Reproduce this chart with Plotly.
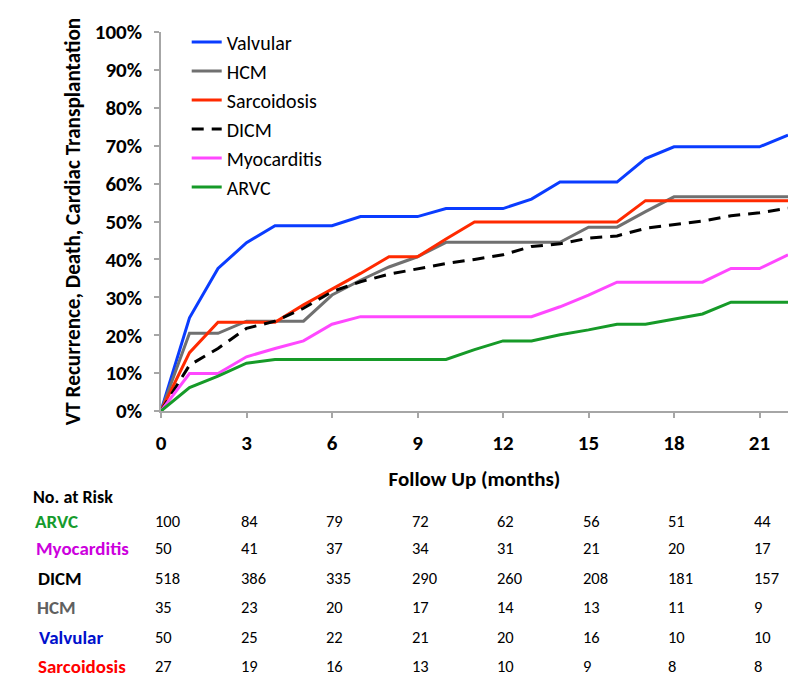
import plotly.graph_objects as go

months = list(range(0, 23))

valvular = [0, 24.6, 37.6, 44.4, 48.9, 48.9, 48.9, 51.3, 51.3, 51.3, 53.4, 53.4, 53.4,
            55.9, 60.4, 60.4, 60.4, 66.6, 69.7, 69.7, 69.7, 69.7, 72.8]
hcm = [0, 20.5, 20.5, 23.7, 23.7, 23.7, 30.6, 34.5, 38.0, 40.7, 44.5, 44.5, 44.5,
       44.5, 44.5, 48.5, 48.5, 52.6, 56.5, 56.5, 56.5, 56.5, 56.5]
sarcoidosis = [0, 15.4, 23.4, 23.4, 23.4, 28.0, 32.1, 36.3, 40.7, 40.7, 45.4, 49.9, 49.9,
               49.9, 49.9, 49.9, 49.9, 55.5, 55.5, 55.5, 55.5, 55.5, 55.5]
dicm = [0, 12.1, 16.5, 21.8, 23.7, 27.1, 31.5, 34.1, 36.1, 37.6, 38.9, 40.0, 41.2,
        43.4, 44.1, 45.6, 46.2, 48.2, 49.1, 50.1, 51.5, 52.3, 53.5]
myocarditis = [0, 9.9, 9.9, 14.3, 16.5, 18.5, 22.9, 24.9, 24.9, 24.9, 24.9, 24.9, 24.9,
               24.9, 27.5, 30.6, 34.0, 34.0, 34.0, 34.0, 37.6, 37.6, 41.2]
arvc = [0, 6.2, 9.2, 12.6, 13.6, 13.6, 13.6, 13.6, 13.6, 13.6, 13.6, 16.2, 18.5,
        18.5, 20.1, 21.4, 22.9, 22.9, 24.2, 25.6, 28.7, 28.7, 28.7]

x_ticks = [0, 3, 6, 9, 12, 15, 18, 21]
y_ticks = [0, 10, 20, 30, 40, 50, 60, 70, 80, 90, 100]

risk_groups = ["ARVC", "Myocarditis", "DICM", "HCM", "Valvular", "Sarcoidosis"]
risk_arvc = [100, 84, 79, 72, 62, 56, 51, 44]
risk_myocarditis = [50, 41, 37, 34, 31, 21, 20, 17]
risk_dicm = [518, 386, 335, 290, 260, 208, 181, 157]
risk_hcm = [35, 23, 20, 17, 14, 13, 11, 9]
risk_valvular = [50, 25, 22, 21, 20, 16, 10, 10]
risk_sarcoidosis = [27, 19, 16, 13, 10, 9, 8, 8]

FONT = "Carlito, 'Open Sans', sans-serif"

series = [
    ("Valvular", valvular, "#0a3cff", "solid"),
    ("HCM", hcm, "#707070", "solid"),
    ("Sarcoidosis", sarcoidosis, "#ff2a00", "solid"),
    ("DICM", dicm, "#000000", "12px,8px"),
    ("Myocarditis", myocarditis, "#ff48ff", "solid"),
    ("ARVC", arvc, "#169a28", "solid"),
]

fig = go.Figure()
for name, vals, color, dash in series:
    fig.add_trace(go.Scatter(
        x=months, y=vals, mode="lines", name=name, legendgroup=name,
        line=dict(color=color, width=3, dash=dash),
    ))

# page has an 8px body margin; figure is sized so it fills the 800x687 window
OFF = 8
W, H = 792, 679
L, R, T, B = 153, 12, 24, 276
plot_h = H - T - B
plot_w = W - L - R

def py(ypage):
    return (H - B - (ypage - OFF)) / plot_h

def px(xpage):
    return ((xpage - OFF) - L) / plot_w

annotations = []
annotations.append(dict(xref="paper", yref="paper", x=px(31), y=py(497), text="<b>No. at Risk</b>",
                        showarrow=False, xanchor="left", yanchor="middle",
                        font=dict(family=FONT, size=18, color="#000000")))

label_colors = {"ARVC": "#159b2d", "Myocarditis": "#cc00dd", "DICM": "#000000",
                "HCM": "#606060", "Valvular": "#0010cc", "Sarcoidosis": "#ff0000"}
row_px = {"ARVC": 521, "Myocarditis": 548, "DICM": 578, "HCM": 607, "Valvular": 637, "Sarcoidosis": 666}
label_px = {"ARVC": 33, "Myocarditis": 34, "DICM": 36, "HCM": 35, "Valvular": 37, "Sarcoidosis": 36}
risk_values = {"ARVC": risk_arvc, "Myocarditis": risk_myocarditis, "DICM": risk_dicm,
               "HCM": risk_hcm, "Valvular": risk_valvular, "Sarcoidosis": risk_sarcoidosis}

for g in risk_groups:
    yy = py(row_px[g])
    annotations.append(dict(xref="paper", yref="paper", x=px(label_px[g]), y=yy, text="<b>%s</b>" % g,
                            showarrow=False, xanchor="left", yanchor="middle",
                            font=dict(family=FONT, size=19, color=label_colors[g])))
    for xv, n in zip(x_ticks, risk_values[g]):
        annotations.append(dict(xref="x", yref="paper", x=xv, y=yy, text=str(n),
                                showarrow=False, xanchor="left", yanchor="middle", xshift=-8,
                                font=dict(family=FONT, size=16.5, color="#000000")))

fig.update_layout(
    width=W, height=H,
    margin=dict(l=L, r=R, t=T, b=B, autoexpand=False),
    paper_bgcolor="white", plot_bgcolor="white",
    font=dict(family=FONT, color="#000000"),
    showlegend=True,
    legend=dict(x=0.041, y=1.025, xanchor="left", yanchor="top",
                bgcolor="rgba(0,0,0,0)", font=dict(family=FONT, size=20, color="#000000"),
                traceorder="grouped", tracegroupgap=0, itemwidth=30),
    annotations=annotations,
    xaxis=dict(
        range=[0, 22], tickvals=x_ticks, ticktext=[str(v) for v in x_ticks],
        showgrid=False, zeroline=False, showline=True, linecolor="#a6a6a6", linewidth=1.5,
        ticks="outside", ticklen=5, tickcolor="#a6a6a6", tickwidth=1.5,
        ticklabelstandoff=7,
        tickfont=dict(family=FONT, size=21, color="#000000", weight="bold"),
        title=dict(text="<b>Follow Up (months)</b>", standoff=16,
                   font=dict(family=FONT, size=21, color="#000000")),
    ),
    yaxis=dict(
        range=[0, 100], tickvals=y_ticks, ticktext=["%d%%" % v for v in y_ticks],
        showgrid=False, zeroline=False, showline=True, linecolor="#a6a6a6", linewidth=1.5,
        ticks="outside", ticklen=5, tickcolor="#a6a6a6", tickwidth=1.5,
        ticklabelstandoff=8,
        tickfont=dict(family=FONT, size=21, color="#000000", weight="bold"),
        title=dict(text="<b>VT Recurrence, Death, Cardiac Transplantation</b>", standoff=8,
                   font=dict(family=FONT, size=21.2, color="#000000")),
    ),
)

fig.write_html("out.html")
